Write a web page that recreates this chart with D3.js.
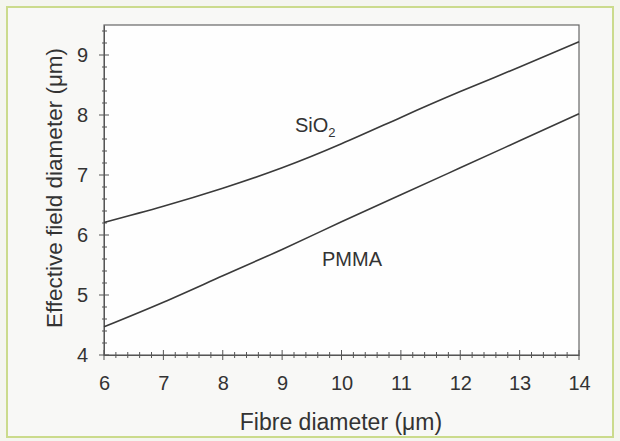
<!DOCTYPE html>
<html><head><meta charset="utf-8">
<script src="https://cdn.jsdelivr.net/npm/d3@7"></script>
<style>
html,body{margin:0;padding:0;background:#f6f6f3;}
svg{display:block;font-family:"Liberation Sans",Arial,sans-serif;}
</style></head>
<body><svg id="c" width="620" height="441"></svg>
<script>
const fibre = [6, 7, 8, 9, 10, 11, 12, 13, 14];
const sio2 = [6.21, 6.48, 6.78, 7.12, 7.52, 7.96, 8.39, 8.80, 9.22];
const pmma = [4.47, 4.88, 5.32, 5.76, 6.22, 6.67, 7.12, 7.57, 8.02];
const xTicks = [6, 7, 8, 9, 10, 11, 12, 13, 14];
const yTicks = [4, 5, 6, 7, 8, 9];

const svg = d3.select("#c");
const W = 620, H = 441;
svg.append("rect").attr("x",0).attr("y",0).attr("width",W).attr("height",H).attr("fill","#f4f5ef");
svg.append("rect").attr("x",7).attr("y",7).attr("width",606).attr("height",430)
  .attr("fill","#f8f8f6").attr("stroke","#cbdb8c").attr("stroke-width",2);

const x = d3.scaleLinear().domain([6,14]).range([104,579]);
const y = d3.scaleLinear().domain([4,9.5]).range([355,25]);

svg.append("rect").attr("x",x(6)).attr("y",y(9.5)).attr("width",x(14)-x(6)).attr("height",y(4)-y(9.5))
  .attr("fill","#fefefe").attr("stroke","#666").attr("stroke-width",1.2);

const tc = "#555";
const xMinor = d3.range(6, 14.001, 0.2);
svg.append("g").selectAll("line").data(xMinor).join("line")
  .attr("x1",d=>x(d)).attr("x2",d=>x(d))
  .attr("y1",d=>Math.abs(d-Math.round(d))<1e-6 ? y(4)-5 : y(4)-3)
  .attr("y2",d=>Math.abs(d-Math.round(d))<1e-6 ? y(4)+5 : y(4)+3)
  .attr("stroke",tc).attr("stroke-width",1);
const yMinor = d3.range(4, 9.501, 0.2);
svg.append("g").selectAll("line").data(yMinor).join("line")
  .attr("y1",d=>y(d)).attr("y2",d=>y(d))
  .attr("x1",d=>Math.abs(d-Math.round(d))<1e-6 ? x(6)-5 : x(6)-2)
  .attr("x2",d=>Math.abs(d-Math.round(d))<1e-6 ? x(6)+5 : x(6)+3)
  .attr("stroke",tc).attr("stroke-width",1);

const xAxis = svg.append("g").attr("transform",`translate(0,${y(4)})`)
  .call(d3.axisBottom(x).tickValues(xTicks).tickSize(0).tickPadding(21).tickFormat(d3.format("d")));
xAxis.select(".domain").attr("stroke",tc);
xAxis.selectAll("text").attr("font-size",20).attr("fill","#333").attr("font-family","Liberation Sans, Arial, sans-serif");
const yAxis = svg.append("g").attr("transform",`translate(${x(6)},0)`)
  .call(d3.axisLeft(y).tickValues(yTicks).tickSize(0).tickPadding(16).tickFormat(d3.format("d")));
yAxis.select(".domain").attr("stroke",tc);
yAxis.selectAll("text").attr("font-size",20).attr("fill","#333").attr("font-family","Liberation Sans, Arial, sans-serif");

const line = d3.line().x((d,i)=>x(fibre[i])).y(d=>y(d)).curve(d3.curveNatural);
[sio2, pmma].forEach(s=>{
  svg.append("path").attr("d",line(s)).attr("fill","none").attr("stroke","#3a3a3a").attr("stroke-width",1.6);
});

const lab = svg.append("text").attr("x",295).attr("y",132).attr("font-size",20).attr("fill","#333");
lab.append("tspan").text("SiO");
lab.append("tspan").attr("font-size",13).attr("dy",5).text("2");
svg.append("text").attr("x",322).attr("y",266).attr("font-size",20).attr("fill","#333").text("PMMA");

svg.append("text").attr("x",341).attr("y",430).attr("text-anchor","middle")
  .attr("font-size",23).attr("fill","#333").text("Fibre diameter (μm)");
svg.append("text").attr("transform","translate(62,188) rotate(-90)").attr("text-anchor","middle")
  .attr("font-size",22.5).attr("fill","#333").text("Effective field diameter (μm)");
</script></body></html>
